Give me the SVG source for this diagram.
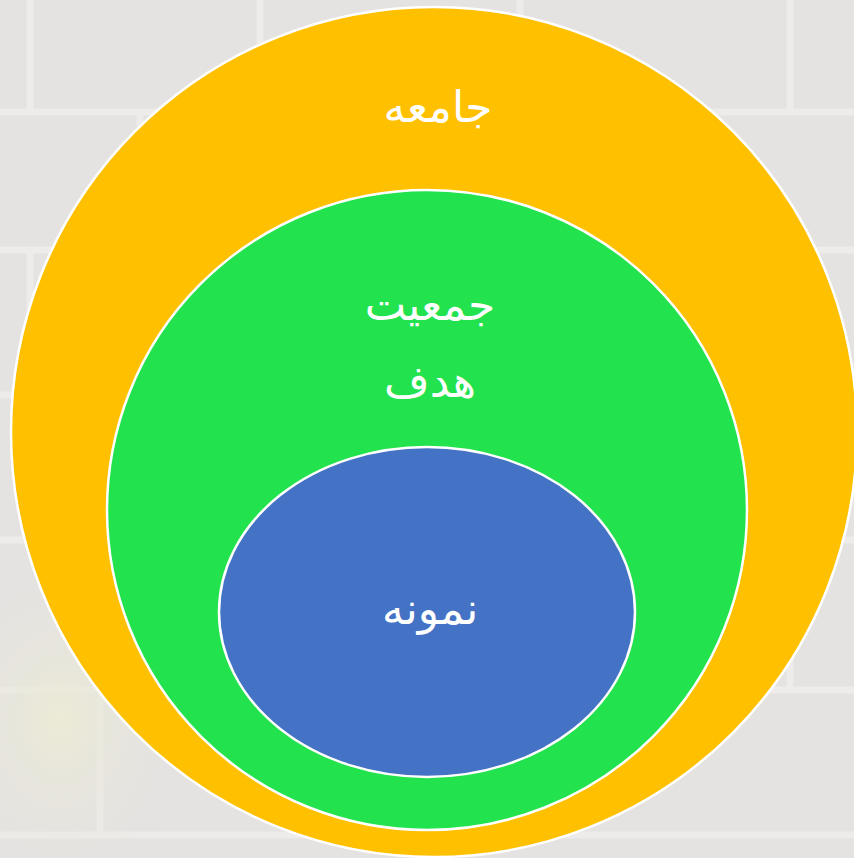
<svg xmlns="http://www.w3.org/2000/svg" width="854" height="858" viewBox="0 0 854 858">
<style>
.ring{stroke:#ffffff;stroke-width:2.5}
.lbl{fill:#ffffff;font-family:"DejaVu Sans","Noto Sans",sans-serif;font-size:44px;text-anchor:middle}
.mortar{stroke:#eeecea;stroke-width:7;fill:none}
</style>
<defs>
<radialGradient id="leaf" cx="0.5" cy="0.5" r="0.5">
<stop offset="0" stop-color="#ecebd6"/>
<stop offset="1" stop-color="#e4e2dc" stop-opacity="0"/>
</radialGradient>
</defs>
<g id="background">
<rect x="0" y="0" width="854" height="858" fill="#e5e3e2"/>
<path class="mortar" d="M0 112 H854 M0 250 H854 M0 395 H854 M0 540 H854 M0 690 H854 M0 835 H854"/>
<path class="mortar" d="M30 0 V112 M260 0 V112 M520 0 V112 M790 0 V112 M140 112 V250 M400 112 V250 M660 112 V250 M30 250 V395 M800 250 V395 M140 395 V540 M790 540 V690 M100 690 V835"/>
<ellipse cx="60" cy="720" rx="130" ry="170" fill="url(#leaf)"/>
</g>
<g id="population">
<ellipse class="ring" cx="434" cy="432" rx="423" ry="425" fill="#ffc000"/>
<text class="lbl" x="438" y="122">جامعه</text>
</g>
<g id="target-population">
<ellipse class="ring" cx="427" cy="510" rx="320" ry="320" fill="#22e24e"/>
<text class="lbl" x="430" y="320">جمعیت</text>
<text class="lbl" x="430" y="397">هدف</text>
</g>
<g id="sample">
<ellipse class="ring" cx="427" cy="612" rx="208" ry="165" fill="#4472c4"/>
<text class="lbl" x="430" y="624">نمونه</text>
</g>
<g id="connectors"/>
</svg>
